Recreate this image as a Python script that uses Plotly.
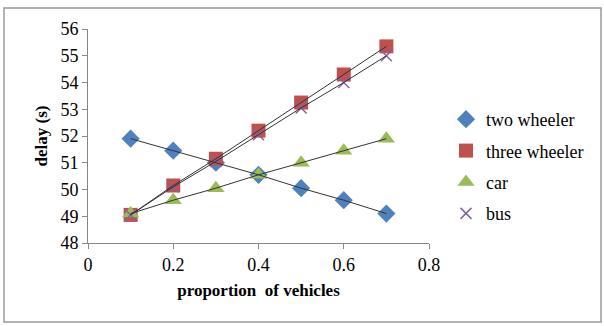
import plotly.graph_objects as go

proportion = [0.1, 0.2, 0.3, 0.4, 0.5, 0.6, 0.7]
two_wheeler = [51.9, 51.45, 51.0, 50.55, 50.05, 49.6, 49.1]
three_wheeler = [49.05, 50.15, 51.15, 52.2, 53.25, 54.3, 55.35]
car = [49.1, 49.6, 50.05, 50.55, 51.0, 51.45, 51.9]
bus = [49.05, 50.1, 51.05, 52.05, 53.05, 54.0, 55.0]

series = [
    ("two wheeler", two_wheeler, dict(symbol="diamond", color="#4F81BD", size=14)),
    ("three wheeler", three_wheeler, dict(symbol="square", color="#C0504D", size=14)),
    ("car", car, dict(symbol="triangle-up", color="#9BBB59", size=15)),
    ("bus", bus, dict(symbol="x-thin", color="#8064A2", size=11, line=dict(width=1.5, color="#8064A2"))),
]

fig = go.Figure()
for i, (name, vals, mk) in enumerate(series):
    fig.add_trace(go.Scatter(x=proportion, y=vals, mode="markers", name=name,
                             marker=mk, legendgroup=f"g{i}"))
for name, vals, mk in series:
    fig.add_trace(go.Scatter(x=proportion, y=vals, mode="lines", showlegend=False,
                             line=dict(color="#333333", width=1), hoverinfo="skip"))

W, H = 604, 326
L, R, T, B = 88, 175, 29, 83
pw, ph = W - L - R, H - T - B

def px(xp):
    return (xp - L) / pw

def py(yp):
    return (H - B - yp) / ph

font = "Times New Roman, Liberation Serif, DejaVu Serif, serif"
fig.update_layout(
    width=W, height=H,
    margin=dict(l=L, r=R, t=T, b=B, autoexpand=False),
    paper_bgcolor="white", plot_bgcolor="white",
    font=dict(family=font, size=18, color="black"),
    xaxis=dict(range=[0, 0.8], dtick=0.2, showgrid=False, zeroline=False,
               showline=True, linecolor="#888888", linewidth=1,
               ticks="outside", ticklen=5, tickcolor="#888888",
               tickfont=dict(family=font, size=18), tickformat=".1~f",
               title=dict(text="<b>proportion  of vehicles</b>", font=dict(family=font, size=17), standoff=10)),
    yaxis=dict(range=[48, 56], dtick=1, showgrid=False, zeroline=False,
               showline=True, linecolor="#888888", linewidth=1,
               ticks="outside", ticklen=5, tickcolor="#888888",
               tickfont=dict(family=font, size=18),
               title=dict(text="<b>delay (s)</b>", font=dict(family=font, size=17), standoff=8)),
    legend=dict(x=px(446), y=py(101), xanchor="left", yanchor="top",
                font=dict(family=font, size=18), tracegroupgap=5, traceorder="grouped",
                bgcolor="rgba(0,0,0,0)", itemwidth=30),
    showlegend=True,
    shapes=[dict(type="rect", xref="paper", yref="paper",
                 x0=px(4), x1=px(601), y0=py(322), y1=py(8),
                 line=dict(color="#999999", width=1.5))],
)

fig.write_html("out.html")
